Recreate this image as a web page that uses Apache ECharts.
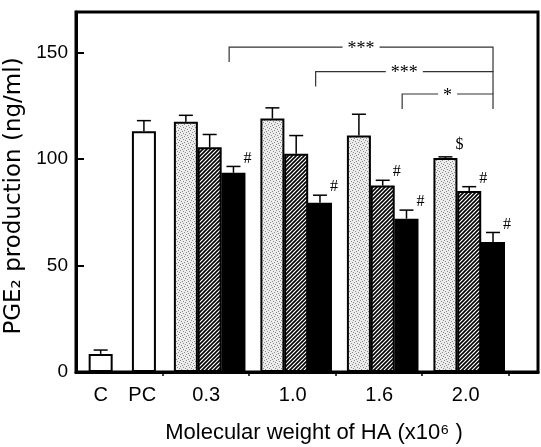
<!DOCTYPE html>
<html><head><meta charset="utf-8">
<script src="https://cdn.jsdelivr.net/npm/echarts@6/dist/echarts.min.js"></script>
<style>html,body{margin:0;padding:0;background:#fff}#c{width:541px;height:447px}</style>
</head><body><div id="c"></div>
<script>
// ---- data ----
const categories = ['C', 'PC', '0.3', '1.0', '1.6', '2.0'];
const controlValues = [8.5, 113];
const controlErrors = [1.8, 5];
const dottedValues = [117.5, 119, 111, 100.5];
const dottedErrors = [3, 5, 10, 0.5];
const hatchedValues = [105.5, 102.5, 87.5, 85];
const hatchedErrors = [6, 8.5, 2.5, 2];
const blackValues = [93.5, 79.5, 72, 61];
const blackErrors = [3, 3.5, 4, 4.5];
const dottedMarks = ['', '', '', '$'];
const hatchedMarks = ['', '', '#', '#'];
const blackMarks = ['#', '#', '#', '#'];
const bracketFrom = ['0.3', '1.0', '1.6'];
const bracketTo = '2.0';
const bracketLevels = [152.5, 141, 130.5];
const bracketLabels = ['***', '***', '*'];
const yTicks = [0, 50, 100, 150];

// ---- layout (in x-axis units) ----
const CONTROL_X = [0.285, 0.785];
const GROUP_X0 = 1.545, SUB = 0.275;
const groupX = i => GROUP_X0 + i;
const groupCats = categories.slice(2);
const dottedX = groupCats.map((c, i) => groupX(i) - SUB);
const hatchedX = groupCats.map((c, i) => groupX(i));
const blackX = groupCats.map((c, i) => groupX(i) + SUB);
const labelX = [CONTROL_X[0], CONTROL_X[1] - 0.02].concat(groupCats.map((c, i) => groupX(i) - 0.04));
const labelMap = {};
labelX.forEach((x, i) => { labelMap[x.toFixed(4)] = categories[i]; });

function stipple() {
  const c = document.createElement('canvas'); c.width = c.height = 6;
  const g = c.getContext('2d');
  g.fillStyle = '#ececec'; g.fillRect(0, 0, 6, 6);
  g.fillStyle = '#8a8a8a';
  [[0,0],[3,1],[1,3],[4,4],[5,2],[2,5]].forEach(p => g.fillRect(p[0], p[1], 1, 1));
  return c;
}
function hatch() {
  const c = document.createElement('canvas'); c.width = c.height = 4;
  const g = c.getContext('2d');
  g.fillStyle = '#fff'; g.fillRect(0, 0, 4, 4);
  g.strokeStyle = '#000'; g.lineWidth = 1.6;
  g.beginPath();
  g.moveTo(-1, 5); g.lineTo(5, -1);
  g.moveTo(-1, 1); g.lineTo(1, -1);
  g.moveTo(3, 5); g.lineTo(5, 3);
  g.stroke();
  return c;
}

function barSeries(name, xs, vals, color) {
  return {
    type: 'bar', name, barWidth: 24, barGap: '-100%',
    data: vals.map((v, i) => [xs[i], v]),
    itemStyle: { color, borderColor: '#000', borderWidth: 2 },
    z: 2, animation: false
  };
}

const errData = [];
CONTROL_X.forEach((x, i) => errData.push([x, controlValues[i], controlErrors[i]]));
dottedX.forEach((x, i) => errData.push([x, dottedValues[i], dottedErrors[i]]));
hatchedX.forEach((x, i) => errData.push([x, hatchedValues[i], hatchedErrors[i]]));
blackX.forEach((x, i) => errData.push([x, blackValues[i], blackErrors[i]]));

const markData = [];
[[dottedX, dottedValues, dottedErrors, dottedMarks],
 [hatchedX, hatchedValues, hatchedErrors, hatchedMarks],
 [blackX, blackValues, blackErrors, blackMarks]].forEach(s => {
  s[0].forEach((x, i) => { if (s[3][i]) markData.push({ value: [x, s[1][i] + s[2][i]], mark: s[3][i] }); });
});

const bracketData = bracketFrom.map((f, i) => {
  const x1 = blackX[groupCats.indexOf(f)] - 0.05;
  const x2 = blackX[groupCats.indexOf(bracketTo)];
  const lvl = bracketLevels[i];
  const rightDrop = i < bracketLevels.length - 1 ? bracketLevels[i + 1] : lvl - 7;
  return { value: [x1, x2, lvl, lvl - 7, rightDrop], label: bracketLabels[i] };
});

const chart = echarts.init(document.getElementById('c'), null, { renderer: 'canvas' });
chart.setOption({
  animation: false,
  textStyle: { fontFamily: 'Liberation Sans, Arial, sans-serif' },
  grid: { left: 76, right: 3, top: 12, bottom: 75, show: true, borderColor: '#000', borderWidth: 3,
    containLabel: false, outerBoundsMode: 'none' },
  xAxis: {
    type: 'value', min: 0, max: 5.34,
    axisLine: { lineStyle: { color: '#000', width: 3 } },
    axisTick: { show: true, customValues: [1, 2, 3, 4, 5], length: 4, lineStyle: { color: '#000', width: 1.5 } },
    axisLabel: {
      customValues: labelX, fontSize: 20, color: '#000', margin: 13,
      formatter: v => labelMap[Number(v).toFixed(4)] || ''
    },
    splitLine: { show: false },
    name: 'Molecular weight of HA (x10\u2076 )', nameLocation: 'middle', nameGap: 50,
    nameTextStyle: { fontSize: 22, color: '#000', padding: [0, 0, 0, 14] }
  },
  yAxis: {
    type: 'value', min: 0, max: 169,
    axisLine: { show: true, lineStyle: { color: '#000', width: 3 } },
    axisTick: { show: true, inside: true, length: 8, customValues: yTicks.slice(1), lineStyle: { color: '#000', width: 2 } },
    axisLabel: { customValues: yTicks, fontSize: 19, color: '#000', margin: 8 },
    splitLine: { show: false },
    name: 'PGE\u2082 production (ng/ml)', nameLocation: 'middle', nameGap: 37, nameRotate: 90,
    nameTextStyle: { fontSize: 23, color: '#000', fontFamily: 'DejaVu Sans, sans-serif', padding: [0, 8, 0, 0] }
  },
  series: [
    barSeries('Control', CONTROL_X, controlValues, '#fff'),
    barSeries('Dotted', dottedX, dottedValues, { image: stipple(), repeat: 'repeat' }),
    barSeries('Hatched', hatchedX, hatchedValues, { image: hatch(), repeat: 'repeat' }),
    barSeries('Black', blackX, blackValues, '#000'),
    {
      type: 'custom', z: 3, data: errData,
      renderItem: (params, api) => {
        const x = api.value(0), y = api.value(1), e = api.value(2);
        const p0 = api.coord([x, y]), p1 = api.coord([x, y + e]);
        return { type: 'group', children: [
          { type: 'line', shape: { x1: p0[0], y1: p0[1], x2: p1[0], y2: p1[1] }, style: { stroke: '#000', lineWidth: 1.5 } },
          { type: 'line', shape: { x1: p1[0] - 7, y1: p1[1], x2: p1[0] + 7, y2: p1[1] }, style: { stroke: '#000', lineWidth: 1.5 } }
        ] };
      }
    },
    {
      type: 'custom', z: 4, data: markData,
      renderItem: (params, api) => {
        const p = api.coord([api.value(0), api.value(1)]);
        const m = markData[params.dataIndex].mark;
        return { type: 'text', style: { text: m, x: p[0] + 14, y: p[1] - (m === '$' ? 12 : 8), align: 'center', verticalAlign: 'middle',
          font: '16px "Liberation Serif", serif', fill: '#000' } };
      }
    },
    {
      type: 'custom', z: 4, data: bracketData,
      renderItem: (params, api) => {
        const x1 = api.value(0), x2 = api.value(1), lvl = api.value(2), lb = api.value(3), rb = api.value(4);
        const a = api.coord([x1, lb]), b = api.coord([x1, lvl]), c = api.coord([x2, lvl]), d = api.coord([x2, rb]);
        const txt = bracketData[params.dataIndex].label;
        return { type: 'group', children: [
          { type: 'polyline', shape: { points: [a, b, c, d] }, style: { stroke: '#333', lineWidth: 1.2, fill: null } },
          { type: 'text', style: { text: txt, x: (b[0] + c[0]) / 2, y: b[1] + 2, align: 'center', verticalAlign: 'middle',
            font: '18px "Liberation Serif", serif', fill: '#000', backgroundColor: '#fff', padding: [0, 5] } }
        ] };
      }
    }
  ]
});
</script>
</body></html>
